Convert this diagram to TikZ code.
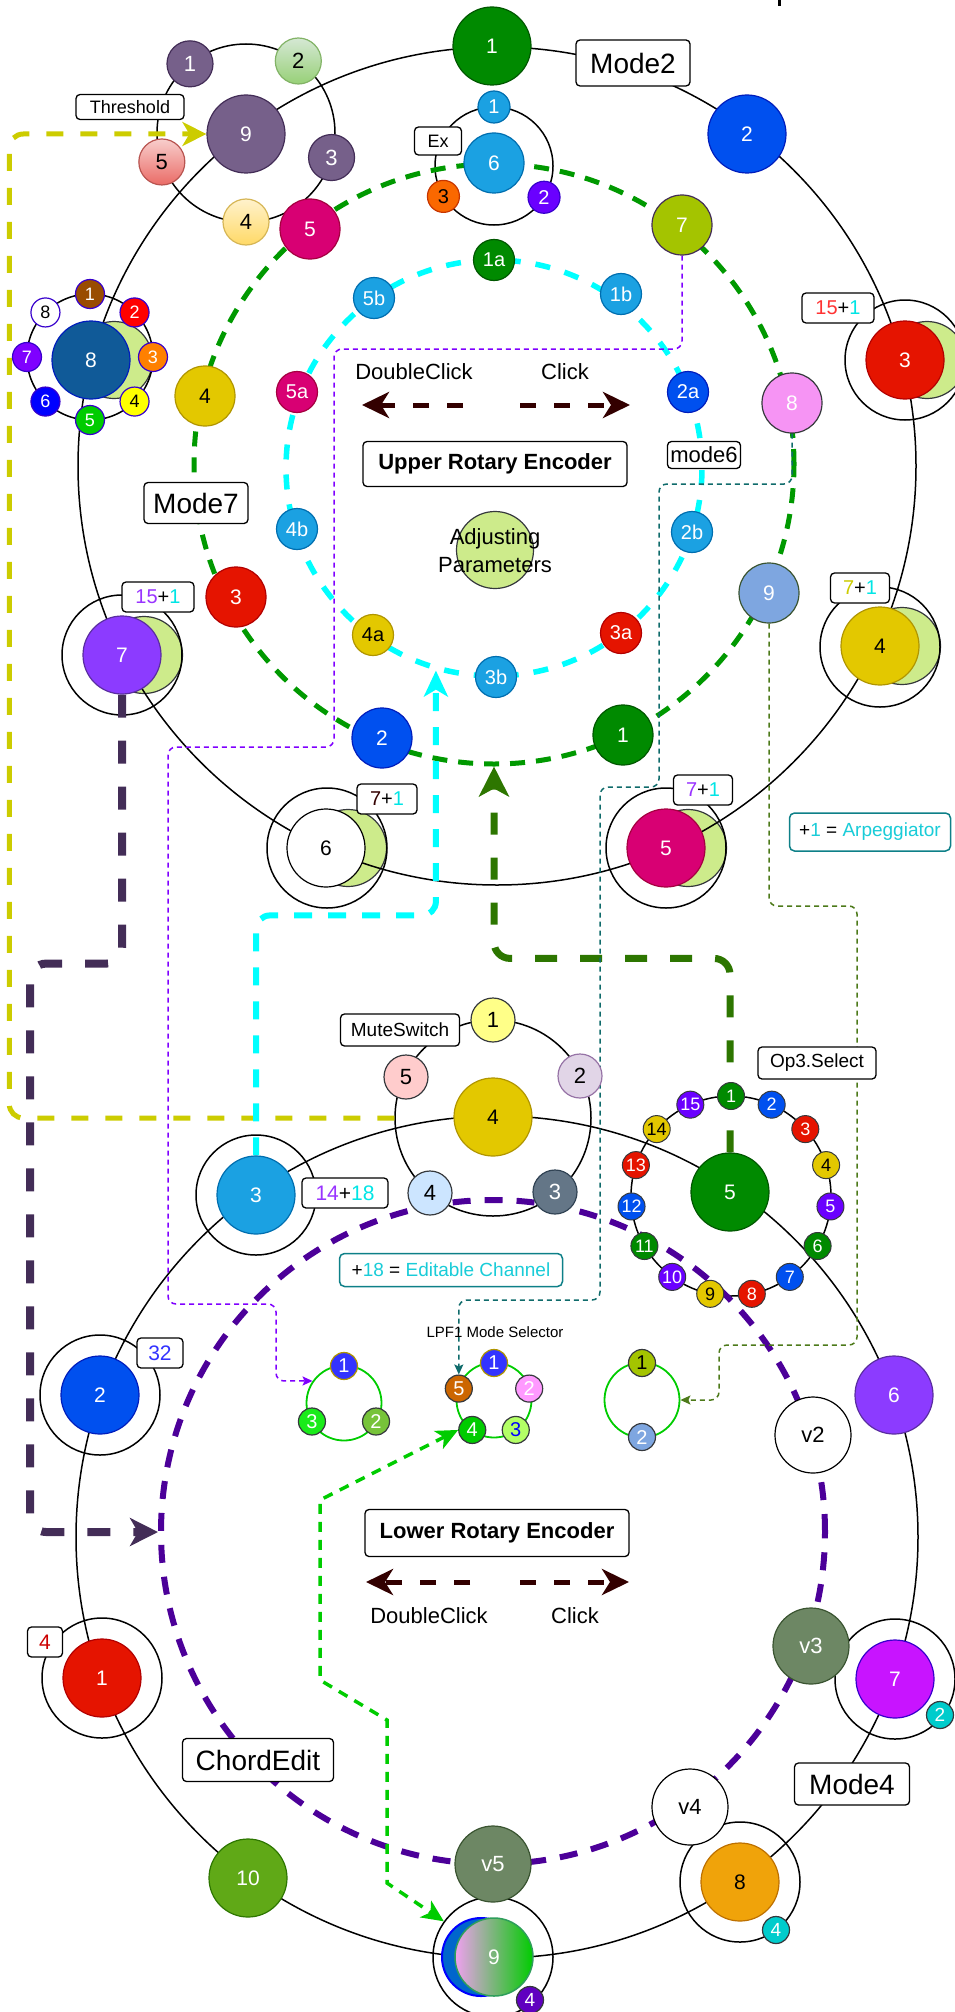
\documentclass[tikz,border=0pt]{standalone}
\usepackage{fontspec}
\setmainfont{Liberation Sans}
\usetikzlibrary{arrows.meta,calc}
\pgfdeclarelayer{back}
\pgfdeclarelayer{lines}
\pgfsetlayers{back,lines,main}
\newcommand\myfs[1]{\fontsize{#1}{#1}\selectfont}
% node colours
\definecolor{cG}{HTML}{008A00}\definecolor{cGb}{HTML}{005700}
\definecolor{cB}{HTML}{0050EF}\definecolor{cBb}{HTML}{001DBC}
\definecolor{cR}{HTML}{E51400}\definecolor{cRb}{HTML}{B20000}
\definecolor{cY}{HTML}{E3C800}\definecolor{cYb}{HTML}{B09500}
\definecolor{cM}{HTML}{D80073}\definecolor{cMb}{HTML}{A50040}
\definecolor{cV}{HTML}{8C3BFF}\definecolor{cVb}{HTML}{5A2DA0}
\definecolor{cL}{HTML}{A4C400}\definecolor{cLb}{HTML}{432D57}
\definecolor{cP}{HTML}{F694F4}\definecolor{cK}{HTML}{36393D}
\definecolor{cSB}{HTML}{7EA6E0}\definecolor{cSBb}{HTML}{3A5431}
\definecolor{cC}{HTML}{1BA1E2}\definecolor{cCb}{HTML}{006EAF}
\definecolor{cT}{HTML}{76608A}\definecolor{cTb}{HTML}{432D57}
\definecolor{cLG}{HTML}{CDEB8B}
\definecolor{cDB}{HTML}{105A98}
\definecolor{cVi}{HTML}{6A00FF}\definecolor{cVib}{HTML}{3700CC}
\definecolor{cO}{HTML}{FA6800}\definecolor{cOb}{HTML}{C73500}
\definecolor{cMag}{HTML}{C814FF}
\definecolor{cOr}{HTML}{F0A30A}\definecolor{cOrb}{HTML}{BD7000}
\definecolor{cGr}{HTML}{60A917}\definecolor{cGrb}{HTML}{2D7600}
\definecolor{cVg}{HTML}{6D8764}
\definecolor{cSl}{HTML}{647687}\definecolor{cSlb}{HTML}{314354}
\definecolor{cD5E8D4}{HTML}{D5E8D4}\definecolor{c97D077}{HTML}{97D077}\definecolor{c82B366}{HTML}{82B366}
\definecolor{cFFF2CC}{HTML}{FFF2CC}\definecolor{cFFD966}{HTML}{FFD966}\definecolor{cD6B656}{HTML}{D6B656}
\definecolor{cF8CECC}{HTML}{F8CECC}\definecolor{cEA6B66}{HTML}{EA6B66}\definecolor{cB85450}{HTML}{B85450}
\definecolor{cBrn}{HTML}{994C00}\definecolor{cRed}{HTML}{FF0000}\definecolor{cOrg}{HTML}{FF8000}
\definecolor{cYel}{HTML}{FFFF00}\definecolor{cGrn}{HTML}{00CC00}\definecolor{cBlu}{HTML}{0000FF}
\definecolor{cVio}{HTML}{7F00FF}
\definecolor{cMu1}{HTML}{FFFF88}\definecolor{cMu2}{HTML}{E1D5E7}\definecolor{cMu2b}{HTML}{9673A6}
\definecolor{cMu4}{HTML}{CCE5FF}\definecolor{cMu5}{HTML}{FFCCCC}
\definecolor{cIndigo}{HTML}{3333FF}\definecolor{cOlv}{HTML}{77C33A}\definecolor{cBG}{HTML}{1AEB1A}
\definecolor{cPink}{HTML}{FF99FF}\definecolor{cLime}{HTML}{B3FF66}\definecolor{cBrO}{HTML}{CC6600}
\definecolor{cTeal}{HTML}{00CCCC}\definecolor{cDV}{HTML}{6000C0}
\definecolor{cB9}{HTML}{0066CC}\definecolor{cPk9}{HTML}{F0A0F0}\definecolor{cG9b}{HTML}{2E9E5B}
% line and text colours
\definecolor{lnG}{HTML}{009900}
\definecolor{lnC}{HTML}{00FFFF}
\definecolor{lnP}{HTML}{4C0099}
\definecolor{lnY}{HTML}{CCCC00}
\definecolor{lnDP}{HTML}{432D57}
\definecolor{lnDG}{HTML}{2D7600}
\definecolor{lnT}{HTML}{0F6B6B}
\definecolor{lnV}{HTML}{7F00FF}
\definecolor{lnO}{HTML}{4D7A1A}
\definecolor{lnMG}{HTML}{00CC00}
\definecolor{lnBr}{HTML}{330000}
\definecolor{txC}{HTML}{00E5E5}
\definecolor{txV}{HTML}{9933FF}
\definecolor{txR}{HTML}{FF3333}
\definecolor{txB}{HTML}{3333FF}
\definecolor{txRd}{HTML}{CC0000}
\definecolor{legC}{HTML}{19CCD8}
\definecolor{legB}{HTML}{0E8088}
\tikzset{
  nd/.style 2 args={circle, inner sep=0pt, fill=#1, draw=#2, line width=1.2pt, text=white},
  sBig/.style={minimum size=78pt, font=\myfs{21}},
  sMid/.style={minimum size=60pt, font=\myfs{21}},
  sCyn/.style={minimum size=41pt, font=\myfs{20}},
  sThr/.style={minimum size=46pt, font=\myfs{22}},
  sMut/.style={minimum size=44pt, font=\myfs{22}},
  sEx/.style={minimum size=32pt, font=\myfs{20}},
  sSat/.style={minimum size=29pt, font=\myfs{18}},
  sTiny/.style={minimum size=27pt, font=\myfs{18}},
  sVn/.style={minimum size=76pt, font=\myfs{22}},
  ringS/.style={circle, draw=black, line width=1.5pt, inner sep=0pt, minimum size=#1},
  gring/.style={circle, draw=lnMG, line width=1.8pt, inner sep=0pt, minimum size=75pt},
  bx/.style 2 args={draw=black, fill=white, rounded corners=4pt, line width=1.3pt, inner sep=0pt, minimum width=#1, minimum height=#2},
  lgd/.style 2 args={draw=legB, fill=white, rounded corners=5pt, line width=1.5pt, inner sep=0pt, minimum width=#1, minimum height=#2, font=\myfs{19}},
  thinln/.style={line width=1.5pt, dash pattern=on 5pt off 4pt, rounded corners=8pt, -{Stealth[length=10pt, width=9pt, inset=2pt]}},
  clickarr/.style={draw=lnBr, line width=5pt, dash pattern=on 16pt off 18pt, -{Stealth[length=27pt, width=26pt, inset=8pt]}},
  plain/.style={inner sep=0pt, font=\myfs{22}}
}
\begin{document}
\begin{tikzpicture}[x=1pt,y=-1pt]
\useasboundingbox (0,0) rectangle (954,2012);

\begin{pgfonlayer}{back}
% light green discs behind the nodes
\foreach \x/\y/\n in {927/360/gbA,902/646/gbB,688/848/gbC,348/848/gbD,144/655/gbE,114/360/gbF}
  \node[nd={cLG}{cK}, minimum size=77pt] (\n) at (\x,\y) {};
% rings
\node[ringS=838pt] (U) at (497,466) {};
\node[ringS=842pt] (L) at (497,1537) {};
\node[ringS=178pt] (thR) at (246,133) {};
\node[ringS=118pt] (exR) at (494,166) {};
\node[ringS=126pt] (s8R) at (90,357) {};
\node[ringS=196pt] (muteR) at (493,1118) {};
\node[ringS=200pt] (opR) at (731,1196) {};
\foreach \x/\y/\n in {905/360/oU3,880/647/oU4,666/848/oU5,327/848/oU6,122/655/oU7,256/1195/oL3,100/1395/oL2,102/1678/oL1,493/1957/oL9,740/1882/oL8,895/1679/oL7}
  \node[ringS=120pt] (\n) at (\x,\y) {};
\node[gring] (rA) at (344,1403) {};
\node[gring] (rB) at (494,1400) {};
\node[gring] (rC) at (642,1400) {};
% dashed rings
\node[circle, inner sep=0pt, draw=lnG, line width=5pt, dash pattern=on 15pt off 11pt, minimum size=600pt] (gr) at (494,464) {};
\node[circle, inner sep=0pt, draw=lnC, line width=5.5pt, dash pattern=on 15pt off 15pt, minimum size=416pt] (cr) at (494,468) {};
\node[circle, inner sep=0pt, draw=lnP, line width=6pt, dash pattern=on 18pt off 14pt, minimum size=664pt] (pr) at (493,1532) {};
\end{pgfonlayer}

% ---------- upper big ring ----------
\node[nd={cG}{cGb}, sBig] (u1) at (492,46) {1};
\node[nd={cB}{cBb}, sBig] (u2) at (747,134) {2};
\node[nd={cR}{cRb}, sBig] (u3) at (905,360) {3};
\node[nd={cY}{cYb}, sBig, text=black] (u4) at (880,646) {4};
\node[nd={cM}{cMb}, sBig] (u5) at (666,848) {5};
\node[nd={white}{black}, sBig, text=black] (u6) at (326,848) {6};
\node[nd={cV}{cVb}, sBig] (u7) at (122,655) {7};
\node[nd={cDB}{cBb}, sBig] (u8) at (91,360) {8};
\node[nd={cT}{cTb}, sBig] (u9) at (246,134) {9};

% threshold ring
\node[nd={cT}{cTb}, sThr] (t1) at ($(thR.center)+(129:89pt)$) {1};
\node[circle, inner sep=0pt, draw=c82B366, line width=1.2pt, top color=cD5E8D4, bottom color=c97D077, sThr] (t2) at ($(thR.center)+(54:89pt)$) {2};
\node[nd={cT}{cTb}, sThr] (t3) at ($(thR.center)+(-16:89pt)$) {3};
\node[circle, inner sep=0pt, draw=cD6B656, line width=1.2pt, top color=cFFF2CC, bottom color=cFFD966, sThr] (t4) at ($(thR.center)+(-90:89pt)$) {4};
\node[circle, inner sep=0pt, draw=cB85450, line width=1.2pt, top color=cF8CECC, bottom color=cEA6B66, sThr] (t5) at ($(thR.center)+(199:89pt)$) {5};
\node[bx={108pt}{25pt}, font=\myfs{18}] (thB) at (130,107) {Threshold};

% satellites of 8
\node[nd={cBrn}{cVib}, sSat] (s1) at ($(s8R.center)+(90:63pt)$) {1};
\node[nd={cRed}{cVib}, sSat] (s2) at ($(s8R.center)+(45:63pt)$) {2};
\node[nd={cOrg}{cVib}, sSat] (s3) at ($(s8R.center)+(0:63pt)$) {3};
\node[nd={cYel}{cVib}, sSat, text=black] (s4) at ($(s8R.center)+(-45:63pt)$) {4};
\node[nd={cGrn}{cVib}, sSat] (s5) at ($(s8R.center)+(-90:63pt)$) {5};
\node[nd={cBlu}{cVib}, sSat] (s6) at ($(s8R.center)+(-135:63pt)$) {6};
\node[nd={cVio}{cVib}, sSat] (s7) at ($(s8R.center)+(180:63pt)$) {7};
\node[nd={white}{cVib}, sSat, text=black] (s8) at ($(s8R.center)+(135:63pt)$) {8};

% green dashed ring
\node[nd={cM}{cMb}, sMid] (g5) at (310,229) {5};
\node[nd={cC}{cCb}, sMid] (g6) at (494,163) {6};
\node[nd={cL}{cLb}, sMid] (g7) at (682,225) {7};
\node[nd={cP}{cK}, sMid] (g8) at (792,403) {8};
\node[nd={cSB}{cSBb}, sMid] (g9) at (769,593) {9};
\node[nd={cG}{cGb}, sMid] (g1) at (623,735) {1};
\node[nd={cB}{cBb}, sMid] (g2) at (382,738) {2};
\node[nd={cR}{cRb}, sMid] (g3) at (236,597) {3};
\node[nd={cY}{cYb}, sMid, text=black] (g4) at (205,396) {4};
\node[bx={104pt}{41pt}, font=\myfs{28}] (m7) at (196,503) {Mode7};

% Ex ring
\node[nd={cC}{cCb}, sEx] (e1) at ($(exR.center)+(90:59pt)$) {1};
\node[nd={cVi}{cVib}, sEx] (e2) at ($(exR.center)+(-32:59pt)$) {2};
\node[nd={cO}{cOb}, sEx, text=black] (e3) at ($(exR.center)+(211:59pt)$) {3};
\node[bx={47pt}{28pt}, font=\myfs{18}] (exB) at (438,141) {Ex};

% cyan ring
\node[nd={cG}{cGb}, sCyn] (c1a) at (494,260) {1a};
\node[nd={cC}{cCb}, sCyn] (c1b) at (621,294) {1b};
\node[nd={cB}{cBb}, sCyn] (c2a) at (688,392) {2a};
\node[nd={cC}{cCb}, sCyn] (c2b) at (692,532) {2b};
\node[nd={cR}{cRb}, sCyn] (c3a) at (621,633) {3a};
\node[nd={cC}{cCb}, sCyn] (c3b) at (496,677) {3b};
\node[nd={cY}{cYb}, sCyn, text=black] (c4a) at (373,635) {4a};
\node[nd={cC}{cCb}, sCyn] (c4b) at (297,529) {4b};
\node[nd={cM}{cMb}, sCyn] (c5a) at (297,392) {5a};
\node[nd={cC}{cCb}, sCyn] (c5b) at (374,298) {5b};
\node[bx={73pt}{27pt}, font=\myfs{22}] (m6) at (704,455) {mode6};

% centre of upper encoder
\node[nd={cLG}{cK}, minimum size=77pt] (adjC) at (495,550) {};
\node[inner sep=0pt, align=center, font=\fontsize{22}{28}\selectfont] (adjT) at (495,551) {Adjusting\\Parameters};
\node[bx={264pt}{45pt}, font=\bfseries\myfs{22}] (ure) at (495,464) {Upper Rotary Encoder};
\node[plain] (udc) at (414,372) {DoubleClick};
\node[plain] (ucl) at (565,372) {Click};
\coordinate (uL0) at (463,405); \coordinate (uL1) at (362,405);
\coordinate (uR0) at (520,405); \coordinate (uR1) at (630,405);

% labels upper
\node[bx={114pt}{46pt}, font=\myfs{28}] (m2) at (633,63) {Mode2};
\node[bx={72pt}{30pt}, font=\myfs{20}] (l3u) at (838,308) {\textcolor{txR}{15}+\textcolor{txC}{1}};
\node[bx={59pt}{30pt}, font=\myfs{20}] (l4u) at (860,588) {\textcolor{lnY}{7}+\textcolor{txC}{1}};
\node[bx={59pt}{30pt}, font=\myfs{20}] (l5u) at (703,790) {\textcolor{txV}{7}+\textcolor{txC}{1}};
\node[bx={60pt}{30pt}, font=\myfs{20}] (l6u) at (387,799) {\textcolor{lnBr}{7}+\textcolor{txC}{1}};
\node[bx={72pt}{30pt}, font=\myfs{20}] (l7u) at (158,597) {\textcolor{txV}{15}+\textcolor{txC}{1}};
\node[lgd={161pt}{38pt}] (arp) at (870,832) {+\textcolor{legC}{1} = \textcolor{legC}{Arpeggiator}};

% ---------- lower big ring ----------
\node[nd={cC}{cCb}, sBig] (l3) at (256,1195) {3};
\node[nd={cY}{cYb}, sBig, text=black] (l4) at (493,1117) {4};
\node[nd={cG}{cGb}, sBig] (l5) at (730,1192) {5};
\node[nd={cV}{cVb}, sBig] (l6) at (894,1395) {6};
\node[nd={cMag}{cVib}, sBig] (l7) at (895,1679) {7};
\node[nd={cOr}{cOrb}, sBig, text=black] (l8) at (740,1882) {8};
\node[nd={cB9}{cBlu}, sBig, line width=2pt] (l9b) at (481,1957) {};
\node[circle, inner sep=0pt, left color=cPk9, right color=cGrn, draw=cG9b, line width=1.5pt, sBig, text=white] (l9) at (494,1957) {9};
\node[nd={cGr}{cGrb}, sBig] (l10) at (248,1878) {10};
\node[nd={cR}{cRb}, sBig] (l1) at (102,1678) {1};
\node[nd={cB}{cBb}, sBig] (l2) at (100,1395) {2};
\node[nd={cTeal}{cK}, sTiny, font=\myfs{19}] (l7s) at (940,1715) {2};
\node[nd={cTeal}{cK}, sTiny, font=\myfs{19}] (l8s) at (776,1930) {4};
\node[nd={cDV}{cK}, sTiny, font=\myfs{19}] (l9s) at (530,2000) {4};

\node[bx={86pt}{30pt}, font=\myfs{21}] (l3l) at (345,1193) {\textcolor{txV}{14}+\textcolor{txC}{18}};
\node[bx={46pt}{30pt}, font=\myfs{21}] (l2l) at (160,1353) {\textcolor{txB}{32}};
\node[bx={35pt}{30pt}, font=\myfs{21}] (l1l) at (45,1642) {\textcolor{txRd}{4}};

% mute ring
\node[nd={cMu1}{cK}, sMut, text=black] (mu1) at (493,1020) {1};
\node[nd={cMu2}{cMu2b}, sMut, text=black] (mu2) at (580,1076) {2};
\node[nd={cSl}{cSlb}, sMut] (mu3) at (555,1192) {3};
\node[nd={cMu4}{cK}, sMut, text=black] (mu4) at (430,1193) {4};
\node[nd={cMu5}{cK}, sMut, text=black] (mu5) at (406,1077) {5};
\node[bx={119pt}{32pt}, font=\myfs{19}] (muB) at (400,1030) {MuteSwitch};

% Op3 ring
\foreach \k/\f/\t in {1/cG/white,2/cB/white,3/cR/white,4/cY/black,5/cVi/white,6/cG/white,7/cB/white,8/cR/white,9/cY/black,10/cVi/white,11/cG/white,12/cB/white,13/cR/white,14/cY/black,15/cVi/white}
  \node[circle, inner sep=0pt, fill=\f, draw=cK, line width=1pt, text=\t, sTiny] (op\k) at ($(opR.center)+({90-24*(\k-1)}:100pt)$) {\k};
\node[bx={118pt}{32pt}, font=\myfs{19}] (opB) at (817,1063) {Op3.Select};

% purple ring
\node[nd={white}{black}, sVn, text=black] (v2) at (813,1435) {v2};
\node[nd={cVg}{cSBb}, sVn] (v3) at (811,1646) {v3};
\node[nd={white}{black}, sVn, text=black] (v4) at (690,1807) {v4};
\node[nd={cVg}{cSBb}, sVn] (v5) at (493,1864) {v5};
\node[bx={151pt}{43pt}, font=\myfs{28}] (ce) at (258,1760) {ChordEdit};
\node[bx={115pt}{42pt}, font=\myfs{28}] (m4) at (852,1784) {Mode4};

% lower encoder
\node[bx={264pt}{47pt}, font=\bfseries\myfs{22}] (lre) at (497,1533) {Lower Rotary Encoder};
\node[plain] (ldc) at (429,1616) {DoubleClick};
\node[plain] (lcl) at (575,1616) {Click};
\coordinate (lL0) at (470,1582); \coordinate (lL1) at (366,1582);
\coordinate (lR0) at (520,1582); \coordinate (lR1) at (629,1582);
\node[lgd={223pt}{33pt}] (edc) at (451,1270) {+\textcolor{legC}{18} = \textcolor{legC}{Editable Channel}};

% small rings
\node[nd={cIndigo}{cYb}, sTiny, font=\myfs{20}] (a1) at ($(rA.center)+(90:37pt)$) {1};
\node[nd={cOlv}{cK}, sTiny, font=\myfs{20}] (a2) at ($(rA.center)+(-30:37pt)$) {2};
\node[nd={cBG}{cK}, sTiny, font=\myfs{20}] (a3) at ($(rA.center)+(210:37pt)$) {3};
\node[nd={cIndigo}{cYb}, sTiny, font=\myfs{20}] (b1) at ($(rB.center)+(90:37pt)$) {1};
\node[nd={cPink}{cK}, sTiny, font=\myfs{20}] (b2) at ($(rB.center)+(18:37pt)$) {2};
\node[nd={cLime}{cK}, sTiny, font=\myfs{20}, text=cBlu] (b3) at ($(rB.center)+(-54:37pt)$) {3};
\node[nd={cGrn}{cK}, sTiny, font=\myfs{20}] (b4) at ($(rB.center)+(-126:37pt)$) {4};
\node[nd={cBrO}{cK}, sTiny, font=\myfs{20}] (b5) at ($(rB.center)+(162:37pt)$) {5};
\node[nd={cL}{cK}, sTiny, font=\myfs{20}, text=black] (cc1) at ($(rC.center)+(90:37pt)$) {1};
\node[nd={cSB}{cK}, sTiny, font=\myfs{20}] (cc2) at ($(rC.center)+(-90:37pt)$) {2};
\node[inner sep=0pt, font=\myfs{15}] (lpf) at (495,1332) {LPF1 Mode Selector};

% stray mark at the top edge
\coordinate (tk0) at (779,0); \coordinate (tk1) at (779,6);

% ---------- connectors ----------
\begin{pgfonlayer}{lines}
\draw[line width=3pt] (tk0) -- (tk1);
\draw[clickarr] (uL0) -- (uL1);
\draw[clickarr] (uR0) -- (uR1);
\draw[clickarr] (lL0) -- (lL1);
\draw[clickarr] (lR0) -- (lR1);
% yellow
\draw[lnY, line width=5pt, dash pattern=on 17pt off 17pt, rounded corners=14pt, -{Stealth[length=24pt, width=24pt, inset=7pt]}]
  (muteR.west) -- ++(-385,0) |- (u9.west);
% dark purple
\draw[lnDP, line width=8pt, dash pattern=on 23pt off 23pt, rounded corners=16pt, -{Stealth[length=28pt, width=28pt, inset=8pt]}]
  (u7.south) |- ++(-92,269) |- (pr.west);
% cyan
\draw[lnC, line width=6pt, dash pattern=on 18pt off 16pt, rounded corners=14pt, -{Stealth[length=26pt, width=24pt, inset=7pt]}]
  (l3.north) -- ++(0,-240) -| (cr.254);
% dark green
\draw[lnDG, line width=7pt, dash pattern=on 22pt off 23pt, rounded corners=16pt, -{Stealth[length=30pt, width=30pt, inset=8pt]}]
  (l5.north) -- ++(0,-194) -| (gr.south);
% thin connectors
\draw[lnV, thinln] (g7.south) |- (334,349) |- (168,747) |- (276,1304) |- (rA.145);
\draw[lnT, thinln] (g8.south) |- (659,484) |- (600,787) -- (600,1300) -| (b5.north);
\draw[lnO, thinln] (g9.south) |- (857,906) |- (719,1345) |- (rC.east);
% green medium (both ends)
\draw[lnMG, line width=3.5pt, dash pattern=on 10pt off 8pt, {Stealth[length=22pt, width=20pt, inset=6pt]}-{Stealth[length=22pt, width=20pt, inset=6pt]}]
  (b4.west) -- (320,1500) -- (320,1680) -- (387,1720) -- (387,1883) -- (oL9.144);
\end{pgfonlayer}
\end{tikzpicture}
\end{document}
